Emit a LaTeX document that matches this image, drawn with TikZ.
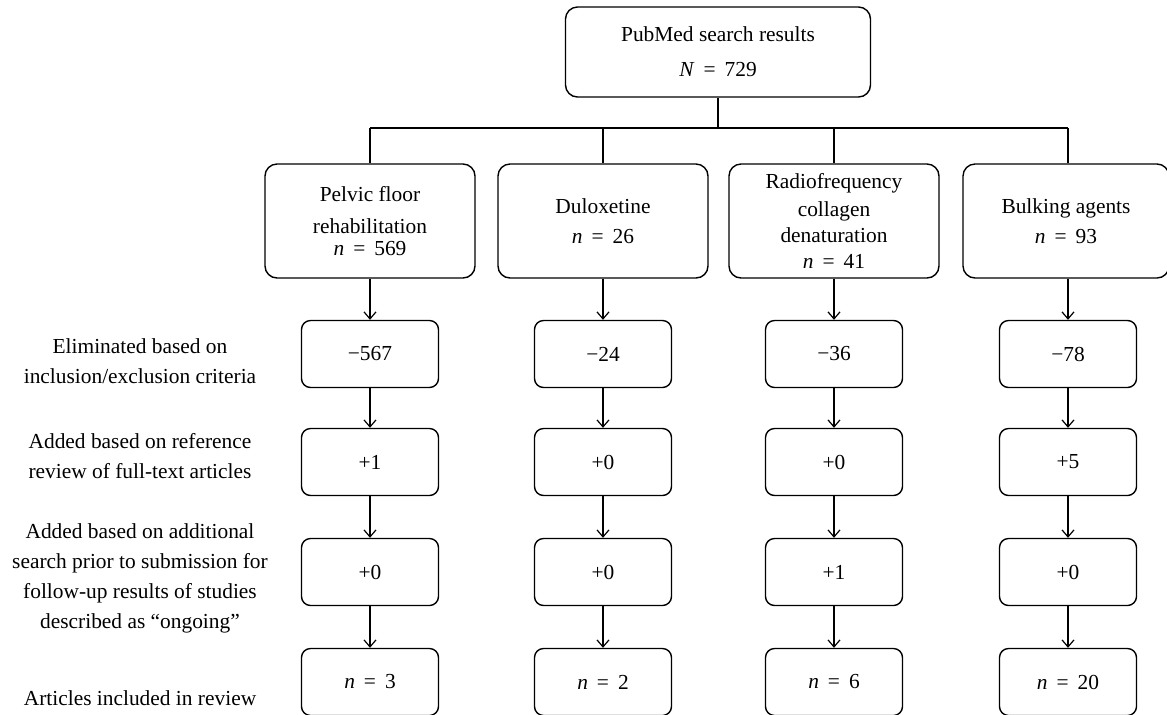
\documentclass[tikz,border=0pt]{standalone}
\usepackage{fontspec}
\setmainfont{Liberation Serif}
\usetikzlibrary{arrows.meta}
\tikzstyle{bigbox}=[draw, line width=0.7pt, rounded corners=6pt, align=center, minimum width=105pt, minimum height=57pt, inner sep=0pt]
\tikzstyle{smallbox}=[draw, line width=0.7pt, rounded corners=4.5pt, align=center, minimum width=68.5pt, minimum height=33.5pt, inner sep=0pt]
\tikzstyle{rowlabel}=[align=center, inner sep=0pt]
\tikzstyle{link}=[line width=0.6pt]
\tikzstyle{flow}=[line width=0.6pt, -{Straight Barb[length=3.5pt, width=6pt]}]
\newcommand{\eqs}{\hspace{4.5pt}=\hspace{4.5pt}}

\begin{document}
\begin{tikzpicture}[x=0.5pt, y=-0.5pt, font=\fontsize{10.7}{15}\selectfont]
  \useasboundingbox (0,0) rectangle (1167,714);

  \node[bigbox, minimum width=152.5pt, minimum height=45pt] (pubmed) at (718,52)
    {PubMed search results\\[2.5pt] \textit{N}\eqs729};
  \coordinate (split) at (718,128);

  \node[bigbox] (pelvic) at (370,221)
    {Pelvic floor\\[1pt] rehabilitation\\[-4pt] \textit{n}\eqs569};
  \node[bigbox] (dulox) at (603,221)
    {Duloxetine\\ \textit{n}\eqs26};
  \node[bigbox] (radio) at (834,221)
    {Radiofrequency\\[-1pt] collagen\\[-2pt] denaturation\\[-2pt] \textit{n}\eqs41};
  \node[bigbox, minimum width=103pt] (bulk) at (1066,221)
    {Bulking agents\\ \textit{n}\eqs93};

  % rows below each branch
  \node[smallbox] (pelvic1) at (370,354) {−567};
  \node[smallbox] (pelvic2) at (370,462) {+1};
  \node[smallbox] (pelvic3) at (370,572) {+0};
  \node[smallbox] (pelvic4) at (370,682) {\textit{n}\eqs3};

  \node[smallbox] (dulox1) at (603,354) {−24};
  \node[smallbox] (dulox2) at (603,462) {+0};
  \node[smallbox] (dulox3) at (603,572) {+0};
  \node[smallbox] (dulox4) at (603,682) {\textit{n}\eqs2};

  \node[smallbox] (radio1) at (834,354) {−36};
  \node[smallbox] (radio2) at (834,462) {+0};
  \node[smallbox] (radio3) at (834,572) {+1};
  \node[smallbox] (radio4) at (834,682) {\textit{n}\eqs6};

  \node[smallbox] (bulk1) at (1068,354) {−78};
  \node[smallbox] (bulk2) at (1068,462) {+5};
  \node[smallbox] (bulk3) at (1068,572) {+0};
  \node[smallbox] (bulk4) at (1068,682) {\textit{n}\eqs20};

  \node[rowlabel] (elim) at (140,361)
    {Eliminated based on\\ inclusion/exclusion criteria};
  \node[rowlabel] (refrev) at (140,456)
    {Added based on reference\\ review of full-text articles};
  \node[rowlabel] (extra) at (140,578)
    {Added based on additional\\ search prior to submission for\\ follow-up results of studies\\ described as ``ongoing''};
  \node[rowlabel] (incl) at (140,698)
    {Articles included in review};

  \draw[link] (pubmed.south) -- (split);
  \draw[link] (pelvic.north |- split) -- (bulk1.north |- split);
  \draw[link] (pelvic.north |- split) -- (pelvic.north);
  \draw[link] (dulox.north |- split) -- (dulox.north);
  \draw[link] (radio.north |- split) -- (radio.north);
  \draw[link] (bulk1.north |- split) -- (bulk1.north |- bulk.north);

  \foreach \c in {pelvic, dulox, radio, bulk} {
    \draw[flow] (\c1.north |- \c.south) -- (\c1.north);
    \draw[flow] (\c1) -- (\c2);
    \draw[flow] (\c2) -- (\c3);
    \draw[flow] (\c3) -- (\c4);
  }
\end{tikzpicture}
\end{document}
